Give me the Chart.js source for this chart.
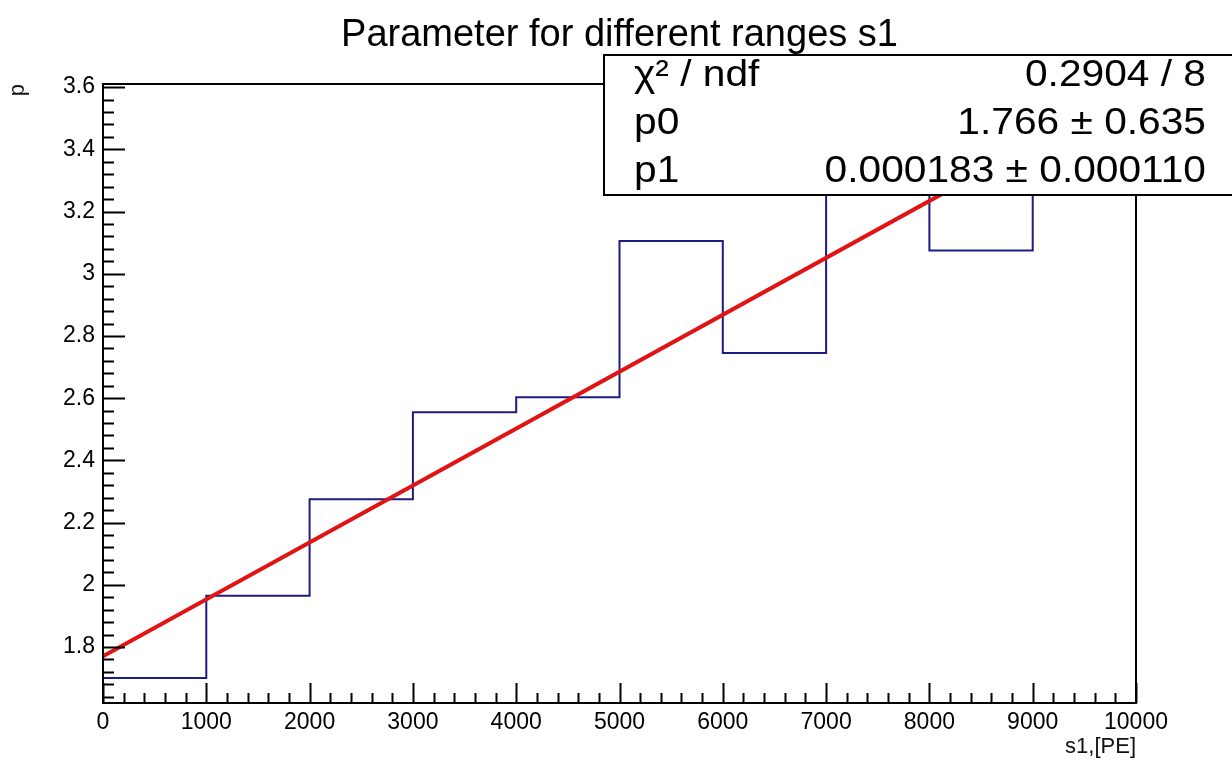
<!DOCTYPE html>
<html>
<head>
<meta charset="utf-8">
<script src="https://cdn.jsdelivr.net/npm/chart.js@4.4.1/dist/chart.umd.min.js"></script>
<style>
  html, body { margin: 0; padding: 0; background: #fff; }
  canvas { display: block; }
</style>
</head>
<body>
<canvas id="chart" width="1232" height="760"></canvas>
<script>
/* ROOT-style step histogram with linear fit and stats box */

// bin edges and contents (s1 ranges, parameter p)
const binEdges  = [0, 1000, 2000, 3000, 4000, 5000, 6000, 7000, 8000, 9000, 10000];
const binValues = [1.70, 1.965, 2.275, 2.555, 2.603, 3.105, 2.745, 3.40, 3.075, 3.50];

// fitted straight line, read at the two ends of the axis
const fitX = [0, 10000];
const fitY = [1.77, 3.60];

const xTicks      = [0, 1000, 2000, 3000, 4000, 5000, 6000, 7000, 8000, 9000, 10000];
const xTickLabels = ['0', '1000', '2000', '3000', '4000', '5000', '6000', '7000', '8000', '9000', '10000'];
const yTicks      = [1.8, 2, 2.2, 2.4, 2.6, 2.8, 3, 3.2, 3.4, 3.6];
const yTickLabels = ['1.8', '2', '2.2', '2.4', '2.6', '2.8', '3', '3.2', '3.4', '3.6'];

const statsLabels = ['χ² / ndf', 'p0', 'p1'];
const statsValues = ['0.2904 / 8', '1.766 ± 0.635', '0.000183 ± 0.000110'];

const FONT = '"Liberation Sans", Arial, Helvetica, sans-serif';

// text in the stats box is a bit wider than plain Helvetica
function wideText(ctx, txt, x, y, align) {
  ctx.save();
  ctx.translate(x, y);
  ctx.scale(1.1, 1);
  ctx.textAlign = align;
  ctx.fillText(txt, 0, 0);
  ctx.restore();
}

// frame, inward ticks (major + minor) and the stats box, ROOT look
const rootFrame = {
  id: 'rootFrame',
  afterDatasetsDraw(chart) {
    const { ctx, chartArea: a, scales: { x, y } } = chart;
    ctx.save();
    ctx.strokeStyle = '#000';
    ctx.lineWidth = 2;
    ctx.beginPath();
    // x ticks (minor every 200)
    for (let v = x.min; v <= x.max + 1e-6; v += 200) {
      const px = Math.round(x.getPixelForValue(v)) + 0.5;
      const major = Math.abs(v / 1000 - Math.round(v / 1000)) < 1e-6;
      ctx.moveTo(px, a.bottom);
      ctx.lineTo(px, a.bottom - (major ? 20 : 10));
    }
    // y ticks (minor every 0.04)
    const y0 = Math.ceil(y.min / 0.04 - 1e-6);
    for (let k = y0; k * 0.04 <= y.max + 1e-6; k++) {
      const v = k * 0.04;
      const py = Math.round(y.getPixelForValue(v)) + 0.5;
      const major = k % 5 === 0;
      ctx.moveTo(a.left, py);
      ctx.lineTo(a.left + (major ? 22 : 11), py);
    }
    ctx.stroke();
    ctx.strokeRect(a.left, a.top, a.right - a.left, a.bottom - a.top);

    // stats box
    const bx = 604, by = 55, bw = 640, bh = 140;
    ctx.fillStyle = '#fff';
    ctx.fillRect(bx, by, bw, bh);
    ctx.strokeRect(bx, by, bw, bh);
    ctx.fillStyle = '#000';
    ctx.font = '37px ' + FONT;
    ctx.textBaseline = 'middle';
    const rowsY = [76, 124, 172];
    statsLabels.forEach((t, i) => {
      wideText(ctx, t, 634, rowsY[i], 'left');
      wideText(ctx, statsValues[i], 1206, rowsY[i], 'right');
    });
    ctx.restore();
  }
};

new Chart(document.getElementById('chart'), {
  type: 'line',
  data: {
    datasets: [
      {
        label: 'fit',
        data: fitX.map((v, i) => ({ x: v, y: fitY[i] })),
        borderColor: '#e01414',
        borderWidth: 4,
        pointRadius: 0,
        fill: false,
      },
      {
        label: 'hist',
        data: binEdges.map((v, i) => ({ x: v, y: binValues[Math.min(i, binValues.length - 1)] })),
        borderColor: '#1c1c82',
        borderWidth: 2,
        pointRadius: 0,
        stepped: true,
        fill: false,
      },
    ],
  },
  options: {
    responsive: false,
    animation: false,
    devicePixelRatio: 1,
    layout: { padding: { top: 0, left: 0, right: 96, bottom: 0 } },
    plugins: {
      legend: { display: false },
      tooltip: { enabled: false },
      title: {
        display: true,
        fullSize: false,
        text: 'Parameter for different ranges s1',
        color: '#000',
        font: { family: FONT, size: 38, weight: 'normal' },
        padding: { top: 13, bottom: 25.4 },
      },
    },
    scales: {
      x: {
        type: 'linear',
        min: 0,
        max: 10000,
        afterBuildTicks: s => { s.ticks = xTicks.map(v => ({ value: v })); },
        afterFit: s => { s.height = 57; },
        ticks: {
          callback: (v, i) => xTickLabels[i],
          autoSkip: false,
          maxRotation: 0,
          padding: 6,
          color: '#000',
          font: { family: FONT, size: 23 },
        },
        grid: { display: false, drawTicks: false },
        border: { display: false },
        title: {
          display: true,
          text: 's1,[PE]',
          align: 'end',
          color: '#111',
          font: { family: FONT, size: 22 },
          padding: { top: 0, bottom: 0 },
        },
      },
      y: {
        type: 'linear',
        min: 1.62,
        max: 3.61,
        afterBuildTicks: s => { s.ticks = yTicks.map(v => ({ value: v })); },
        afterFit: s => { s.width = 103; },
        ticks: {
          callback: (v, i) => yTickLabels[i],
          autoSkip: false,
          padding: 8,
          color: '#000',
          font: { family: FONT, size: 23 },
        },
        grid: { display: false, drawTicks: false },
        border: { display: false },
        title: {
          display: true,
          text: 'p',
          align: 'end',
          color: '#111',
          font: { family: FONT, size: 22 },
          padding: { top: 5, bottom: 0 },
        },
      },
    },
  },
  plugins: [rootFrame],
});
</script>
</body>
</html>
